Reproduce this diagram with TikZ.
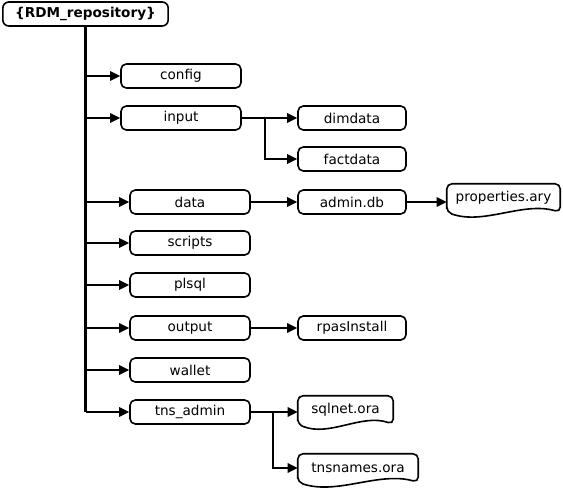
\documentclass[tikz,border=0pt]{standalone}
\usepackage{fontspec}
\setmainfont{DejaVu Sans}
\usetikzlibrary{arrows.meta,calc}
\begin{document}
\begin{tikzpicture}[x=0.75pt,y=-0.75pt,
  every node/.style={font=\fontsize{10.2}{12}\selectfont, inner sep=0pt},
  rootbox/.style={draw, line width=1.2pt, rounded corners=4.5pt, minimum width=124pt, minimum height=18pt, font=\fontsize{10.2}{12}\selectfont\bfseries},
  dirbox/.style={draw, line width=1.2pt, rounded corners=4pt, minimum width=90pt, minimum height=18pt},
  subbox/.style={draw, line width=1.2pt, rounded corners=4pt, minimum width=81pt, minimum height=18pt},
  docnode/.style={minimum height=21pt},
  docline/.style={line width=1.2pt, rounded corners=4pt},
  trunk/.style={line width=2.3pt},
  arr/.style={line width=1.4pt, -{Triangle[length=7.5pt,width=7pt]}}
]
\useasboundingbox (0,0) rectangle (563,492);

\node[rootbox] (root) at (85.5,14) {\{RDM\_repository\}};

\node[dirbox] (config) at (181,76) {config};
\node[dirbox] (input) at (181,118) {input};
\node[subbox] (dimdata) at (352,118) {dimdata};
\node[subbox] (factdata) at (352,159) {factdata};
\node[dirbox] (data) at (190,202) {data};
\node[subbox] (admindb) at (352,202) {admin.db};
\node[dirbox] (scripts) at (190,243) {scripts};
\node[dirbox] (plsql) at (190,285) {plsql};
\node[dirbox] (output) at (190,328) {output};
\node[subbox] (rpas) at (352,328) {rpasInstall};
\node[dirbox] (wallet) at (190,370) {wallet};
\node[dirbox] (tns) at (190,412) {tns\_admin};

% document shapes
\node[docnode, minimum width=84.75pt] (props) at (503.5,198) {properties.ary};
\node[docnode, minimum width=71.25pt] (sqlnet) at (345.5,410) {sqlnet.ora};
\node[docnode, minimum width=90pt] (tnsnames) at (358,468) {tnsnames.ora};

\foreach \d in {props,sqlnet,tnsnames}{
  \draw[docline] (\d.south west) -- (\d.north west) -- (\d.north east) -- (\d.south east)
    .. controls ($(\d.south east)!0.33!(\d.south west)+(0,-11)$) and ($(\d.south east)!0.67!(\d.south west)+(0,13)$) .. (\d.south west) -- cycle;
}

% trunk
\draw[trunk] (root.south) -- (root.south |- tns.west);
\foreach \c in {config,input,data,scripts,plsql,output,wallet,tns}{
  \draw[arr] (root.south |- \c.west) -- (\c.west);
}

% input branch
\coordinate (j1) at ($(input.east)!0.42!(dimdata.west)$);
\draw[arr] (input.east) -- (dimdata.west);
\draw[arr] (j1) |- (factdata.west);

% data branch
\draw[arr] (data.east) -- (admindb.west);
\draw[arr] (admindb.east) -- (admindb.east -| props.west);

% output branch
\draw[arr] (output.east) -- (rpas.west);

% tns branch
\coordinate (j2) at ($(tns.east)!0.48!(tns.east -| sqlnet.west)$);
\draw[arr] (tns.east) -- (tns.east -| sqlnet.west);
\draw[arr] (j2) |- (tnsnames.west);
\end{tikzpicture}
\end{document}
